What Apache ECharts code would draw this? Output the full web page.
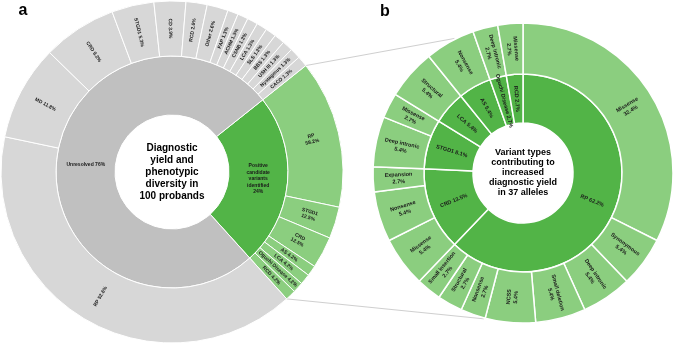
<!DOCTYPE html>
<html><head><meta charset="utf-8">
<script src="https://cdn.jsdelivr.net/npm/echarts@6/dist/echarts.min.js"></script>
<style>html,body{margin:0;padding:0;background:#fff}#c{width:674px;height:346px}</style>
</head><body><div id="c"></div>
<script>
// ---- Panel a data ----
const leftTopNames = ['Positive candidate variants identified', 'Unresolved'];
const leftTopValues = [24, 76];
const leftTopLabels = ['Positive\ncandidate\nvariants\nidentified\n24%', 'Unresolved 76%'];

const positiveNames = ['RP', 'STGD1', 'CRD', 'AS', 'LCA', 'Oguchi Disease', 'RCD'];
const positiveValues = [14, 3, 3, 1, 1, 1, 1];
const positivePct = ['58.2%', '12.5%', '12.5%', '4.2%', '4.2%', '4.2%', '4.2%'];

const unresolvedNames = ['RP', 'MD', 'CRD', 'STGD1', 'CD', 'RCD', 'Other', 'FAP', 'ACHM', 'CSNB', 'LCA', 'SLS', 'BBS', 'USH III', 'Nystagmus', 'CACD'];
const unresolvedValues = [40, 9, 7, 4, 3, 2, 2, 1, 1, 1, 1, 1, 1, 1, 1, 1];
const unresolvedPct = ['52.6%', '11.8%', '9.2%', '5.3%', '3.9%', '2.6%', '2.6%', '1.3%', '1.3%', '1.3%', '1.3%', '1.3%', '1.3%', '1.3%', '1.3%', '1.3%'];

// ---- Panel b data ----
const rightTopNames = ['RP', 'CRD', 'STGD1', 'LCA', 'AS', 'Oguchi Disease', 'RCD'];
const rightTopValues = [23, 5, 3, 2, 2, 1, 1];
const rightTopPct = ['62.2%', '13.5%', '8.1%', '5.4%', '5.4%', '2.7%', '2.7%'];
const rightChildNames = [
  ['Missense', 'Synonymous', 'Deep intronic', 'Small deletion', 'NCSS', 'Nonsense', 'Structural', 'Small insertion'],
  ['Missense', 'Nonsense', 'Expansion'],
  ['Deep intronic', 'Missense'],
  ['Structural'],
  ['Nonsense'],
  ['Deep intronic'],
  ['Missense']
];
const rightChildValues = [[12, 2, 2, 2, 2, 1, 1, 1], [2, 2, 1], [2, 1], [2], [2], [1], [1]];
const rightChildPct = [
  ['32.4%', '5.4%', '5.4%', '5.4%', '5.4%', '2.7%', '2.7%', '2.7%'],
  ['5.4%', '5.4%', '2.7%'],
  ['5.4%', '2.7%'],
  ['5.4%'],
  ['5.4%'],
  ['2.7%'],
  ['2.7%']
];

const leftCenterText = 'Diagnostic\nyield and\nphenotypic\ndiversity in\n100 probands';
const rightCenterText = 'Variant types\ncontributing to\nincreased\ndiagnostic yield\nin 37 alleles';

// ---- styling ----
const grayInner = '#c0c0c0', grayOuter = '#d7d7d7';
const greenInner = '#52b447', greenOuter = '#8bce7f';
const FONT = 'Liberation Sans';

const L = { cx: 172, cy: 172, r0: 57, r1: 116, r2: 171, start: 38.5 };
const R = { cx: 523, cy: 173, r0: 50, r1: 99, r2: 150, start: 90 };

const positiveChildren = positiveNames.map((n, i) => ({
  name: n, value: positiveValues[i],
  itemStyle: { color: greenOuter },
  label: { formatter: n + (i < 3 ? '\n' : ' ') + positivePct[i] }
}));
const unresolvedChildren = unresolvedNames.map((n, i) => ({
  name: n, value: unresolvedValues[i],
  itemStyle: { color: grayOuter },
  label: { formatter: n + ' ' + unresolvedPct[i] }
}));
const leftData = [
  { name: leftTopNames[0], value: leftTopValues[0], itemStyle: { color: greenInner },
    label: { formatter: leftTopLabels[0], rotate: 0, lineHeight: 6.5 }, children: positiveChildren },
  { name: leftTopNames[1], value: leftTopValues[1], itemStyle: { color: grayInner },
    label: { formatter: leftTopLabels[1], rotate: 0 }, children: unresolvedChildren }
];

const rightData = rightTopNames.map((n, i) => ({
  name: n, value: rightTopValues[i], itemStyle: { color: greenInner },
  label: { formatter: n + ' ' + rightTopPct[i] },
  children: rightChildNames[i].map((c, j) => ({
    name: c, value: rightChildValues[i][j], itemStyle: { color: greenOuter },
    label: { formatter: c + '\n' + rightChildPct[i][j] }
  }))
}));

function pt(P, ang, r) {
  const a = ang * Math.PI / 180;
  return [P.cx + r * Math.cos(a), P.cy - r * Math.sin(a)];
}
const leftEndAngle = L.start - leftTopValues[0] / (leftTopValues[0] + leftTopValues[1]) * 360;
const upA = pt(L, L.start, L.r2), upB = pt(R, 117, R.r2 + 1);
const loA = pt(L, leftEndAngle, L.r2), loB = pt(R, -105, R.r2 + 1);

const chart = echarts.init(document.getElementById('c'), null, { renderer: 'canvas' });
chart.setOption({
  animation: false,
  backgroundColor: '#fff',
  textStyle: { fontFamily: FONT },
  series: [
    {
      type: 'sunburst', center: [L.cx, L.cy], radius: [L.r0, L.r2],
      startAngle: L.start, sort: null, nodeClick: false,
      emphasis: { disabled: true },
      itemStyle: { borderColor: '#fff', borderWidth: 1 },
      label: { fontSize: 5, color: '#1a1a1a', fontWeight: 'bold', fontFamily: FONT, lineHeight: 6 },
      levels: [{}, { r0: L.r0, r: L.r1, label: { rotate: 0 } }, { r0: L.r1, r: L.r2, label: { rotate: 'radial' } }],
      data: leftData
    },
    {
      type: 'sunburst', center: [R.cx, R.cy], radius: [R.r0, R.r2],
      startAngle: R.start, sort: null, nodeClick: false,
      emphasis: { disabled: true },
      itemStyle: { borderColor: '#fff', borderWidth: 1.5 },
      label: { fontSize: 5.5, color: '#1a1a1a', fontWeight: 'bold', fontFamily: FONT, lineHeight: 7, rotate: 'radial' },
      levels: [{}, { r0: R.r0, r: R.r1 }, { r0: R.r1, r: R.r2 }],
      data: rightData
    }
  ],
  graphic: [
    { type: 'line', shape: { x1: upA[0], y1: upA[1], x2: upB[0], y2: upB[1] }, style: { stroke: '#cfcfcf', lineWidth: 1 }, z: -1 },
    { type: 'line', shape: { x1: loA[0], y1: loA[1], x2: loB[0], y2: loB[1] }, style: { stroke: '#cfcfcf', lineWidth: 1 }, z: -1 },
    { type: 'text', x: L.cx, y: L.cy, style: { text: leftCenterText, fill: '#000', font: 'bold 10px ' + FONT, align: 'center', verticalAlign: 'middle', lineHeight: 12 } },
    { type: 'text', x: R.cx, y: R.cy, style: { text: rightCenterText, fill: '#000', font: 'bold 9px ' + FONT, align: 'center', verticalAlign: 'middle', lineHeight: 10 } },
    { type: 'text', x: 23, y: 11, style: { text: 'a', fill: '#000', font: 'bold 16px ' + FONT, align: 'center', verticalAlign: 'middle' } },
    { type: 'text', x: 385, y: 12, style: { text: 'b', fill: '#000', font: 'bold 16px ' + FONT, align: 'center', verticalAlign: 'middle' } }
  ]
});
</script></body></html>
